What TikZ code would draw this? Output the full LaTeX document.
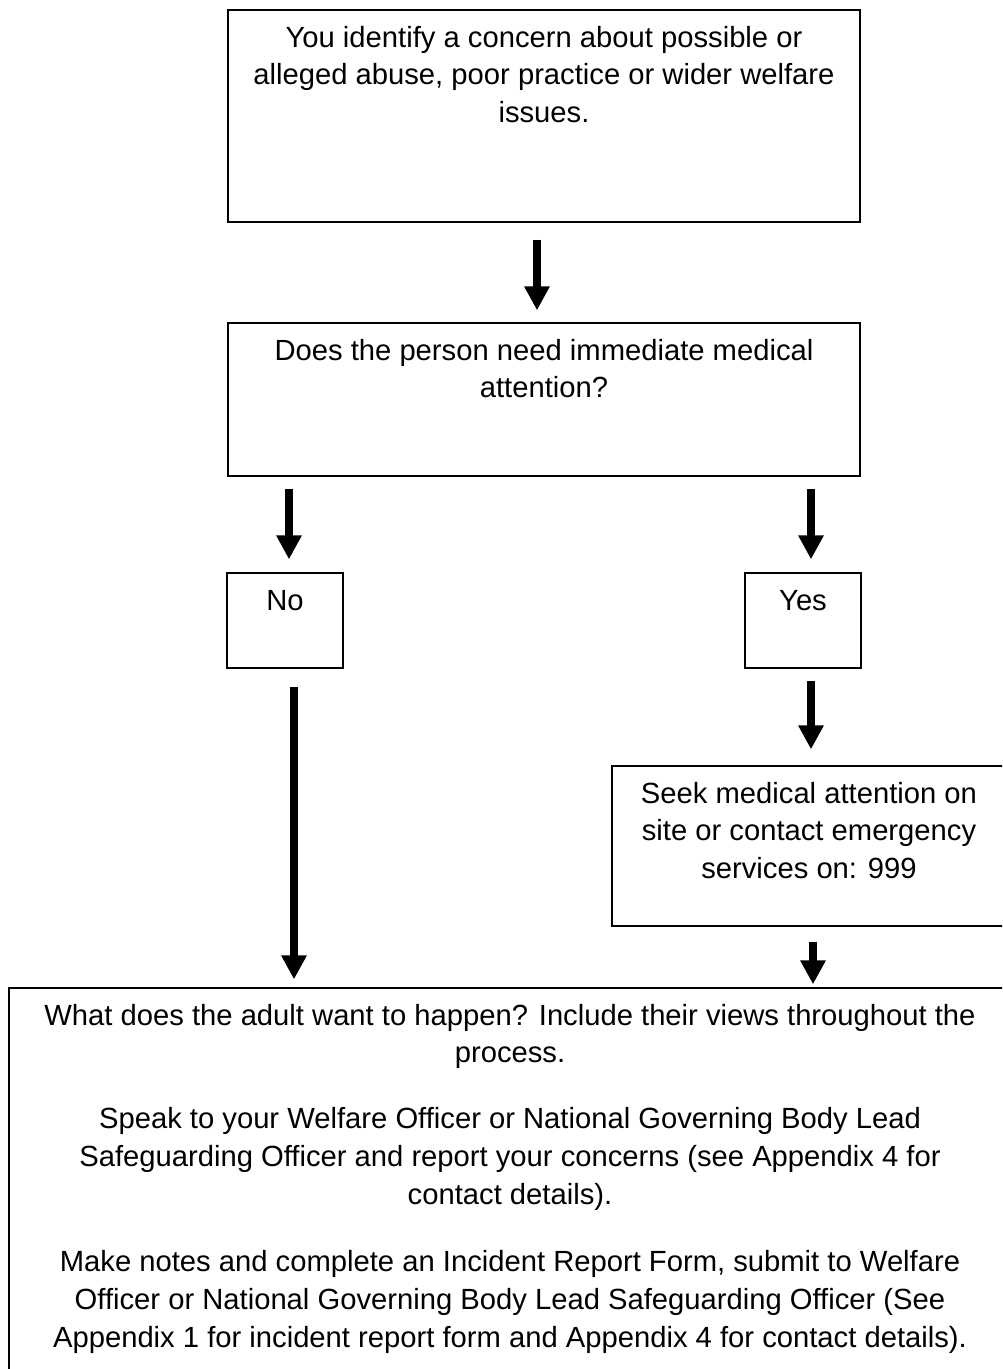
\documentclass[tikz,border=0pt]{standalone}
\usepackage{fontspec}
\setmainfont{Liberation Sans}
\usetikzlibrary{arrows.meta}
\newcommand{\fl}{\rule{0pt}{22pt}}
\tikzset{
  box/.style={draw=black, line width=1.3pt, inner sep=0pt, fill=none},
  txt/.style={font=\fontsize{29.2pt}{37.7pt}\selectfont, align=center, inner sep=0pt, anchor=north},
  arr/.style={line width=8.5pt, -{Triangle[width=24pt,length=24pt]}}
}
\begin{document}
\begin{tikzpicture}[x=1pt,y=-1pt]
\path[use as bounding box, clip] (0,0) rectangle (1002,1369);
\fill[white] (0,0) rectangle (1002,1369);
% boxes
\node[box, minimum width=632pt, minimum height=212pt] (b1) at (544,116) {};
\node[box, minimum width=632pt, minimum height=153pt] (b2) at (544,399.5) {};
\node[box, minimum width=116pt, minimum height=95pt] (no) at (285,620.5) {};
\node[box, minimum width=116pt, minimum height=95pt] (yes) at (803,620.5) {};
\node[box, minimum width=394pt, minimum height=160pt] (seek) at (809,846) {};
\node[box, minimum width=1002pt, minimum height=412pt] (bot) at (510,1194) {};
% texts
\node[txt] (t1) at ([yshift=-15.7pt]b1.north) {\fl You identify a concern about possible or\\ alleged abuse, poor practice or wider welfare\\ issues.};
\node[txt] (t2) at ([yshift=-15.7pt]b2.north) {\fl Does the person need immediate medical\\ attention?};
\node[txt] (tno) at ([yshift=-15.7pt]no.north) {\fl No};
\node[txt] (tyes) at ([yshift=-15.7pt]yes.north) {\fl Yes};
\node[txt] (tseek) at ([yshift=-15.7pt]seek.north) {\fl Seek medical attention on\\ site or contact emergency\\ services on: 999};
\node[txt] (tbot) at ([yshift=-15.7pt]bot.north) {\fl What does the adult want to happen? Include their views throughout the\\ process.\\[28pt]
Speak to your Welfare Officer or National Governing Body Lead\\ Safeguarding Officer and report your concerns (see Appendix 4 for\\ contact details).\\[30pt]
Make notes and complete an Incident Report Form, submit to Welfare\\ Officer or National Governing Body Lead Safeguarding Officer (See\\ Appendix 1 for incident report form and Appendix 4 for contact details).};
% arrows
\draw[arr, shorten <=17pt, shorten >=12pt] ([xshift=-7pt]b1.south) -- ([xshift=-7pt]b2.north);
\draw[arr, shorten <=12pt, shorten >=13pt] ([xshift=4pt]no.north |- b2.south) -- ([xshift=4pt]no.north);
\draw[arr, shorten <=12pt, shorten >=13pt] ([xshift=8pt]yes.north |- b2.south) -- ([xshift=8pt]yes.north);
\draw[arr, shorten <=18pt, shorten >=8pt] ([xshift=9pt]no.south) -- ([xshift=9pt]no.south |- bot.north);
\draw[arr, shorten <=12pt, shorten >=16pt] ([xshift=8pt]yes.south) -- ([xshift=8pt]yes.south |- seek.north);
\draw[arr, shorten <=15pt, shorten >=3pt] ([xshift=4pt]seek.south) -- ([xshift=4pt]seek.south |- bot.north);
\end{tikzpicture}
\end{document}
